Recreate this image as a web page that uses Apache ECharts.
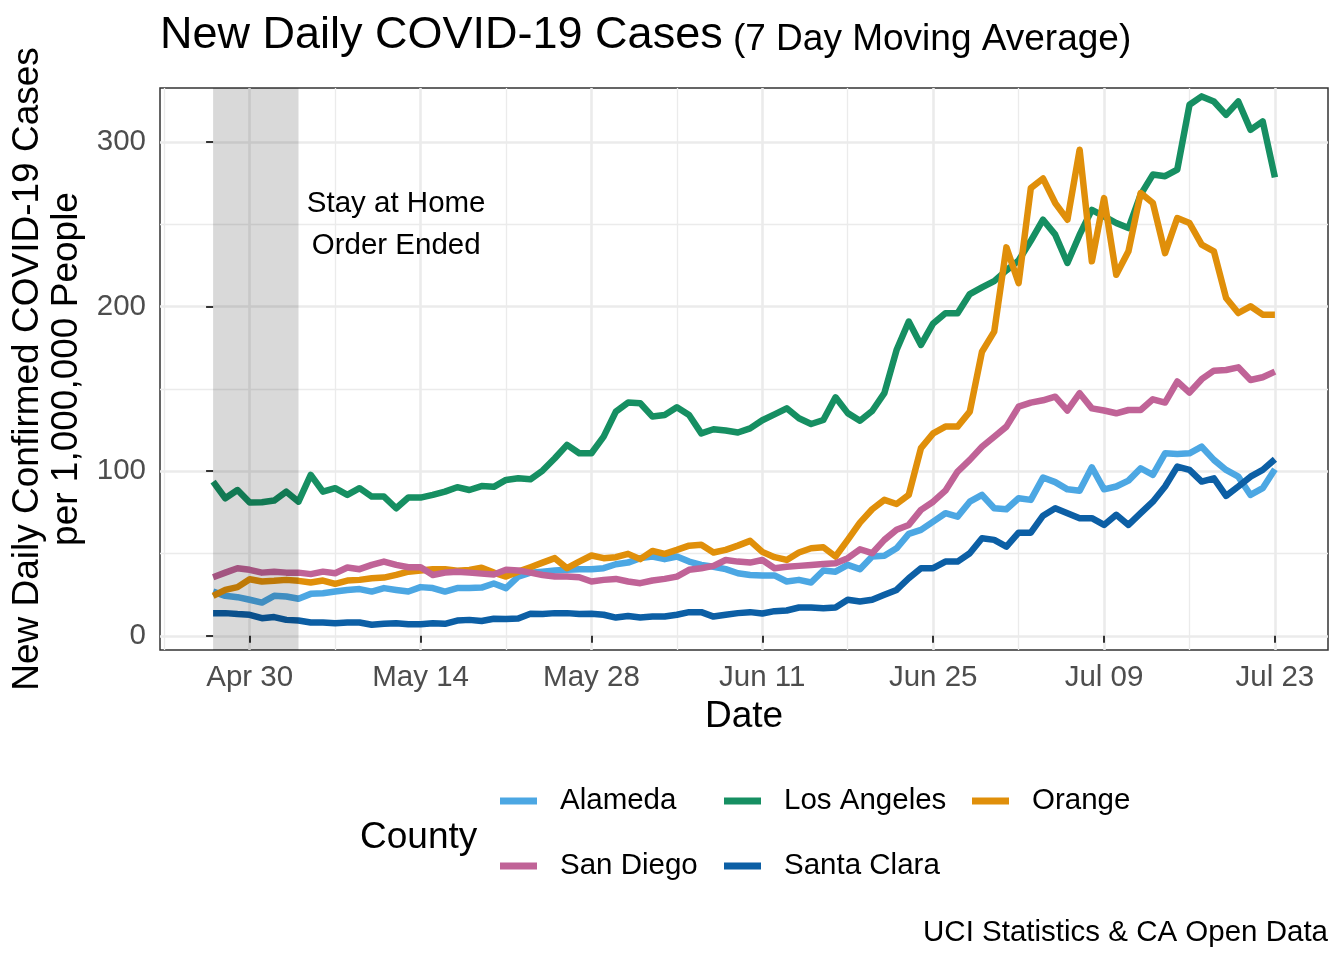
<!DOCTYPE html>
<html>
<head>
<meta charset="utf-8">
<script src="https://cdn.jsdelivr.net/npm/echarts@6/dist/echarts.min.js"></script>
<style>
html,body{margin:0;padding:0;background:#fff;}
#chart{width:1344px;height:960px;}
</style>
</head>
<body>
<div id="chart"></div>
<script>
// ---- data ----
const startDate = '2020-04-27';          // first day of the series (day 0)
const dayCount = 88;                      // Apr 27 .. Jul 23
const counties = ['Alameda', 'Los Angeles', 'Orange', 'San Diego', 'Santa Clara'];
const countyColors = ['#4CA7E3', '#168F62', '#E08F0A', '#C06397', '#0C5FA5'];

const alameda = [26.9,24.3,23.5,21.9,20.2,24.3,23.9,22.5,25.5,25.9,26.9,27.9,28.4,26.9,29,27.9,26.9,29.6,29,26.9,
  29,29,29.3,31.8,29,36,38.4,39,39.7,40.1,40.5,40.5,41.1,43.5,44.5,47.2,48.2,46.6,48.2,45.1,
  43.1,42,40.5,38,37,36.7,36.7,33,34,32.4,39.7,39,43.1,40.5,48.2,48.6,53.2,61.9,64.4,69.4,
  74.5,72.4,81.5,85.6,77.5,76.9,83.6,82.6,96.2,93.4,89,88.2,102.4,89,90.7,94.3,101.8,97.8,110.9,110.5,
  110.9,114.9,106.9,100.8,96.7,85.6,89.7,101.2];
const losAngeles = [93.7,83.6,88.6,81,81.2,82.2,87.6,81.5,97.8,87.6,89.7,85.6,89.7,84.6,84.6,77.5,84,84,85.6,87.6,
  90.3,88.6,91,90.5,94.7,95.7,95.1,100.4,107.9,116,110.9,110.9,121,136.2,141.7,141.3,133.2,134.2,138.8,134.2,
  123,125.5,124.7,123.5,126,131,134.5,138.2,132.2,128.7,131.1,144.9,135.3,130.7,136.6,147.4,173.6,190.9,176.7,189.8,
  195.9,195.9,207.6,211.7,215.5,222,228,240,252.8,243.7,226.5,243.7,258.8,254.8,250.8,247.7,268,280.2,279.2,283.2,
  322.6,327.7,324.6,316.5,324.6,307.4,312.5,278.5];
const orange = [24.3,27.9,29.6,34.4,33,33.4,34,33.4,32.4,33.6,31.6,33.6,34,35,35.4,37,39,39.7,40.5,40.5,
  39.5,40,41.4,38.4,36,39,41.7,44.5,47.2,41.1,45.1,48.8,47.2,47.8,49.8,46.6,51.6,49.8,52.2,54.8,
  55.3,50.6,52.2,54.8,57.7,51,47.8,46.1,50.6,53.2,53.8,48.2,58.3,68.8,76.9,82.6,80.1,85.6,114,123,
  127.1,127.1,136.2,172.6,184.8,236,214.3,272,277.8,262.9,252.8,295.3,227.5,265.9,219.4,233.6,269,262.9,232.5,253.8,
  250.8,237.6,233.6,205.2,196.1,200.2,195.1,195.1];
const sanDiego = [35.6,38.4,41.1,40.1,38.4,39,38.4,38.4,37.5,39,38,41.5,40.5,43.1,45.1,43.1,41.7,41.7,37,38.4,
  39,38.4,37.8,37.3,40.1,39.7,38.4,37,36,36,35.6,33,34,34.6,33,32,33.6,34.6,36,40.1,
  41.1,42.5,46.1,45.1,44.5,46.1,41.1,42,42.5,43.1,43.7,44.1,47.2,52.6,50.2,58.3,64.4,67.4,76.5,81.5,
  88.2,99.8,106.9,114.9,121,127.1,139.2,141.7,143.1,145.3,136.9,147.4,138.2,136.9,135.2,137.2,137.2,143.7,141.7,154.5,
  147.8,155.9,161.1,161.5,163.1,155.4,157.1,160.5];
const santaClara = [13.8,13.8,13.2,12.8,10.7,11.4,9.7,9.3,8.1,8.1,7.7,8.1,8.1,6.7,7.3,7.7,7.1,7.1,7.7,7.3,
  9.3,9.7,9,10.4,10.3,10.5,13.4,13.2,13.8,13.8,13.2,13.4,12.8,11.1,12.1,11.1,11.7,11.7,12.8,14.4,
  14.4,11.7,12.8,13.8,14.4,13.6,15,15.4,17.2,17.2,16.8,17.2,21.9,20.9,21.9,24.9,27.9,35,41.1,41.1,
  45.1,45.1,50.2,59.3,58.3,54.2,62.7,62.7,73,77.5,74.5,71.5,71.5,67.4,73.5,67.4,74.5,81.5,90.7,102.8,
  100.8,93.7,95.7,85,90.7,96.7,100.8,107.3];
const seriesValues = [alameda, losAngeles, orange, sanDiego, santaClara];

// tick labels
const xTickDates = ['2020-04-30','2020-05-14','2020-05-28','2020-06-11','2020-06-25','2020-07-09','2020-07-23'];
const xTickLabels = ['Apr 30','May 14','May 28','Jun 11','Jun 25','Jul 09','Jul 23'];
const xMinorDates = ['2020-04-23','2020-05-07','2020-05-21','2020-06-04','2020-06-18','2020-07-02','2020-07-16'];
const yTicks = [0, 100, 200, 300];
const yMinorTicks = [50, 150, 250];

// stay-at-home shading and annotation
const stayStart = '2020-04-27';
const stayEnd = '2020-05-04';
const annotDate = '2020-05-12';
const annotValue = 249.6;
const annotText = 'Stay at Home\nOrder Ended';

// ---- helpers ----
const DAY = 86400000;
const t0 = Date.UTC(2020, 3, 27);
function dayIndex(s) { const p = s.split('-').map(Number); return Math.round((Date.UTC(p[0], p[1]-1, p[2]) - t0) / DAY); }
const days = []; for (let i = 0; i < dayCount; i++) days.push(dayIndex(startDate) + i);
const xMajor = xTickDates.map(dayIndex);
const xMinor = xMinorDates.map(dayIndex);
const labelOf = {}; xMajor.forEach((d, i) => labelOf[d] = xTickLabels[i]);

const xPad = (days[days.length-1] - days[0]) * 0.05;
const xMin = days[0] - xPad, xMax = days[days.length-1] + xPad;
const yMin = -8.6, yMax = 332.8;

const FONT = '"Liberation Sans", Arial, Helvetica, sans-serif';
const SMALL = 29.5, MID = 37;

const chart = echarts.init(document.getElementById('chart'), null, {renderer: 'canvas', width: 1344, height: 960});

const lineSeries = counties.map((name, k) => ({
  name: name, type: 'line', xAxisIndex: 0, yAxisIndex: 0,
  data: days.map((d, i) => [d, seriesValues[k][i]]),
  showSymbol: false, symbol: 'none', smooth: false, z: 3,
  lineStyle: {width: 6.5, color: countyColors[k], join: 'round', cap: 'butt'},
  itemStyle: {color: countyColors[k]},
  emphasis: {disabled: true}, animation: false
}));

const option = {
  backgroundColor: '#ffffff',
  animation: false,
  textStyle: {fontFamily: FONT},
  title: [
    {text: '{a|New Daily COVID-19 Cases}{b| (7 Day Moving Average)}', left: 155, top: 3,
     textStyle: {fontWeight: 'normal', rich: {
       a: {fontSize: 45, fontWeight: 'normal', fontFamily: FONT, color: '#000', lineHeight: 50, verticalAlign: 'bottom'},
       b: {fontSize: MID, fontWeight: 'normal', fontFamily: FONT, color: '#000', lineHeight: 50, verticalAlign: 'bottom'}
     }}},
    {text: 'County', left: 355, top: 814, textStyle: {fontSize: MID, fontWeight: 'normal', color: '#000', fontFamily: FONT}},
    {text: 'UCI Statistics & CA Open Data', right: 11, top: 913, textStyle: {fontSize: SMALL, fontWeight: 'normal', color: '#000', fontFamily: FONT}}
  ],
  legend: [
    {data: ['Alameda', 'San Diego'], orient: 'vertical', left: 500, top: 786},
    {data: ['Los Angeles', 'Santa Clara'], orient: 'vertical', left: 724, top: 786},
    {data: ['Orange'], orient: 'vertical', left: 972, top: 786}
  ].map(l => Object.assign(l, {
    icon: 'rect', itemWidth: 37, itemHeight: 7, itemGap: 35, selectedMode: false, padding: 0,
    textStyle: {fontSize: SMALL, color: '#000', fontFamily: FONT, lineHeight: 30, padding: [0, 0, 0, 18]}
  })),
  grid: {left: 160, right: 16, top: 88, bottom: 310, show: true, borderColor: '#333333', borderWidth: 1.5,
         backgroundColor: 'transparent', containLabel: false, outerBoundsMode: 'none'},
  xAxis: [
    {type: 'value', min: xMin, max: xMax, gridIndex: 0,
     name: 'Date', nameLocation: 'middle', nameGap: 45,
     nameTextStyle: {fontSize: MID, color: '#000', fontFamily: FONT},
     axisLine: {show: false},
     axisTick: {show: true, customValues: xMajor, length: 7, lineStyle: {color: '#333333', width: 2}},
     axisLabel: {show: true, customValues: xMajor, margin: 13, fontSize: SMALL, color: '#4D4D4D', fontFamily: FONT,
                 formatter: v => labelOf[Math.round(v)] || ''},
     splitLine: {show: true, lineStyle: {color: '#EBEBEB', width: 2.6}},
     z: 1},
    {type: 'value', min: xMin, max: xMax, gridIndex: 0,
     axisLine: {show: false},
     axisTick: {show: false, customValues: xMinor},
     axisLabel: {show: false, customValues: xMinor},
     splitLine: {show: true, lineStyle: {color: '#EBEBEB', width: 1.3}},
     z: 0}
  ],
  yAxis: [
    {type: 'value', min: yMin, max: yMax, gridIndex: 0,
     name: 'New Daily Confirmed COVID-19 Cases\nper 1,000,000 People', nameLocation: 'middle', nameGap: 64, nameRotate: 90,
     nameTextStyle: {fontSize: MID, color: '#000', fontFamily: FONT, lineHeight: 39, align: 'center'},
     axisLine: {show: false},
     axisTick: {show: true, customValues: yTicks, length: 7, lineStyle: {color: '#333333', width: 2}},
     axisLabel: {show: true, customValues: yTicks, margin: 14, fontSize: SMALL, color: '#4D4D4D', fontFamily: FONT},
     splitLine: {show: true, lineStyle: {color: '#EBEBEB', width: 2.6}},
     z: 1},
    {type: 'value', min: yMin, max: yMax, gridIndex: 0,
     axisLine: {show: false},
     axisTick: {show: false, customValues: yMinorTicks},
     axisLabel: {show: false, customValues: yMinorTicks},
     splitLine: {show: true, lineStyle: {color: '#EBEBEB', width: 1.3}},
     z: 0}
  ],
  series: lineSeries.concat([{
    name: 'shade', type: 'line', xAxisIndex: 0, yAxisIndex: 0, data: [], z: 10, silent: true,
    markArea: {silent: true, z: 10, itemStyle: {color: 'rgba(0,0,0,0.15)'},
      data: [[{xAxis: dayIndex(stayStart)}, {xAxis: dayIndex(stayEnd)}]]},
    markPoint: {silent: true, symbol: 'circle', symbolSize: 0,
      label: {show: true, position: 'inside', formatter: annotText, fontSize: SMALL, lineHeight: 42,
              color: '#000', fontFamily: FONT, align: 'center', verticalAlign: 'middle'},
      data: [{coord: [dayIndex(annotDate), annotValue]}]}
  }])
};
chart.setOption(option);
</script>
</body>
</html>
